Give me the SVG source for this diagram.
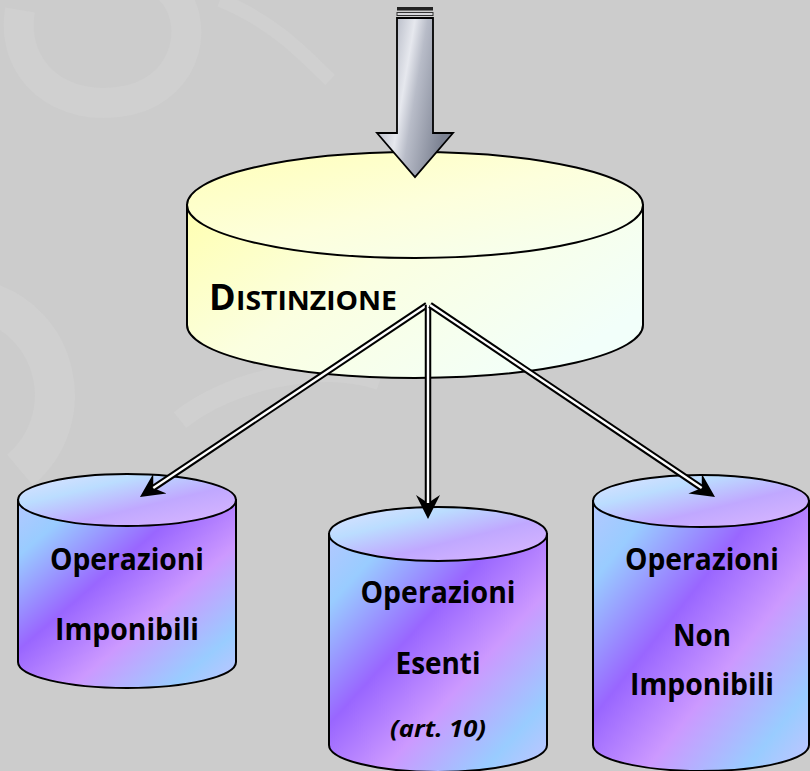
<svg xmlns="http://www.w3.org/2000/svg" width="810" height="771" viewBox="0 0 810 771">
<style>
.lbl{font-family:"Open Sans","Noto Sans","Liberation Sans",sans-serif;font-weight:bold;fill:#000;text-anchor:middle}
.out{stroke:#000;stroke-width:2}
.blk{stroke:#000;stroke-width:6.5;fill:none}
.wht{stroke:#fff;stroke-width:2.4;fill:none}
.wm{fill:none;stroke:#d0d0d0}
</style>
<defs>
<linearGradient id="ySide" x1="0" y1="0" x2="1" y2="0.6">
<stop offset="0" stop-color="#ffffb0"/>
<stop offset="0.45" stop-color="#fbffe0"/>
<stop offset="1" stop-color="#f2fffa"/>
</linearGradient>
<linearGradient id="yTop" x1="0" y1="0" x2="1" y2="1">
<stop offset="0" stop-color="#ffffb8"/>
<stop offset="0.5" stop-color="#fdffdc"/>
<stop offset="1" stop-color="#f4fff4"/>
</linearGradient>
<linearGradient id="pSide" x1="0" y1="0" x2="1" y2="1">
<stop offset="0" stop-color="#b4c8ff"/>
<stop offset="0.15" stop-color="#99ccff"/>
<stop offset="0.4" stop-color="#9966ff"/>
<stop offset="0.62" stop-color="#cc99ff"/>
<stop offset="0.85" stop-color="#99ccff"/>
<stop offset="1" stop-color="#c4c4ff"/>
</linearGradient>
<linearGradient id="pTop" x1="0" y1="0" x2="1" y2="1">
<stop offset="0" stop-color="#e2e2ff"/>
<stop offset="0.3" stop-color="#bbddff"/>
<stop offset="0.6" stop-color="#c0a8ff"/>
<stop offset="1" stop-color="#dcb8ff"/>
</linearGradient>
<linearGradient id="metal" x1="0" y1="0" x2="1" y2="0.35">
<stop offset="0" stop-color="#8e94a4"/>
<stop offset="0.45" stop-color="#e6e8ee"/>
<stop offset="0.6" stop-color="#b8bcc8"/>
<stop offset="1" stop-color="#7c8292"/>
</linearGradient>
<marker id="ah" viewBox="0 -13 25 26" refX="10" refY="0" markerWidth="25" markerHeight="26" markerUnits="userSpaceOnUse" orient="auto">
<path d="M0,-12 L24,0 L0,12 L8,0 Z" fill="#000"/>
</marker>
</defs>

<rect width="810" height="771" fill="#cccccc"/>
<g id="watermark">
<path class="wm" stroke-width="30" d="M20,10 C10,70 60,115 130,100 C190,85 200,20 170,-10"/>
<path class="wm" stroke-width="14" d="M220,0 C270,20 300,50 330,80"/>
<path class="wm" stroke-width="40" d="M-20,300 C60,320 80,420 20,470"/>
<path class="wm" stroke-width="20" d="M180,420 C230,380 320,360 380,380"/>
</g>

<g id="distinzione">
<path d="M187,205 V325 A228,53 0 0 0 643,325 V205 Z" fill="url(#ySide)" class="out"/>
<ellipse cx="415" cy="205" rx="228" ry="53" fill="url(#yTop)" class="out"/>
<text x="209" y="310" style="font-family:'Open Sans','Noto Sans',sans-serif;font-weight:bold;font-size:36px">D</text>
<text x="236" y="310" textLength="161" lengthAdjust="spacingAndGlyphs" style="font-family:'Open Sans','Noto Sans',sans-serif;font-weight:bold;font-size:27px">ISTINZIONE</text>
</g>

<g id="imponibili">
<path d="M18,500 V662 A109,26 0 0 0 236,662 V500 Z" fill="url(#pSide)" class="out"/>
<ellipse cx="127" cy="500" rx="109" ry="26" fill="url(#pTop)" class="out"/>
<text class="lbl" x="127" y="570" font-size="30" textLength="154" lengthAdjust="spacingAndGlyphs">Operazioni</text>
<text class="lbl" x="127" y="640" font-size="30" textLength="144" lengthAdjust="spacingAndGlyphs">Imponibili</text>
</g>

<g id="esenti">
<path d="M329,534 V745 A109,27 0 0 0 547,745 V534 Z" fill="url(#pSide)" class="out"/>
<ellipse cx="438" cy="534" rx="109" ry="27" fill="url(#pTop)" class="out"/>
<text class="lbl" x="438" y="603" font-size="30" textLength="155" lengthAdjust="spacingAndGlyphs">Operazioni</text>
<text class="lbl" x="438" y="674" font-size="30" textLength="85" lengthAdjust="spacingAndGlyphs">Esenti</text>
<text class="lbl" x="438" y="737" font-size="24" font-style="italic" textLength="96" lengthAdjust="spacingAndGlyphs">(art. 10)</text>
</g>

<g id="non-imponibili">
<path d="M593,501 V745 A108,26 0 0 0 809,745 V501 Z" fill="url(#pSide)" class="out"/>
<ellipse cx="701" cy="501" rx="108" ry="26" fill="url(#pTop)" class="out"/>
<text class="lbl" x="702" y="570" font-size="30" textLength="154" lengthAdjust="spacingAndGlyphs">Operazioni</text>
<text class="lbl" x="702" y="646" font-size="30" textLength="58" lengthAdjust="spacingAndGlyphs">Non</text>
<text class="lbl" x="702" y="695" font-size="30" textLength="144" lengthAdjust="spacingAndGlyphs">Imponibili</text>
</g>

<g id="connectors">
<line class="blk" x1="427" y1="305" x2="151.6" y2="489.2" marker-end="url(#ah)"/>
<line class="wht" x1="427" y1="305" x2="153.3" y2="488.1"/>
<line class="blk" x1="428" y1="305" x2="428" y2="505" marker-end="url(#ah)"/>
<line class="wht" x1="428" y1="305" x2="428" y2="503"/>
<line class="blk" x1="430" y1="305" x2="703.4" y2="489.2" marker-end="url(#ah)"/>
<line class="wht" x1="430" y1="305" x2="701.7" y2="488.1"/>
</g>

<g id="input-arrow">
<rect x="397" y="7" width="36" height="3.5" fill="#222"/>
<rect x="397" y="12.5" width="36" height="3" fill="#d8d8dc" stroke="#333" stroke-width="1"/>
<path d="M397,18 H433 V133 H453 L415,177 L377,133 H397 Z" fill="url(#metal)" stroke="#000" stroke-width="1.8" stroke-linejoin="miter"/>
</g>
</svg>
